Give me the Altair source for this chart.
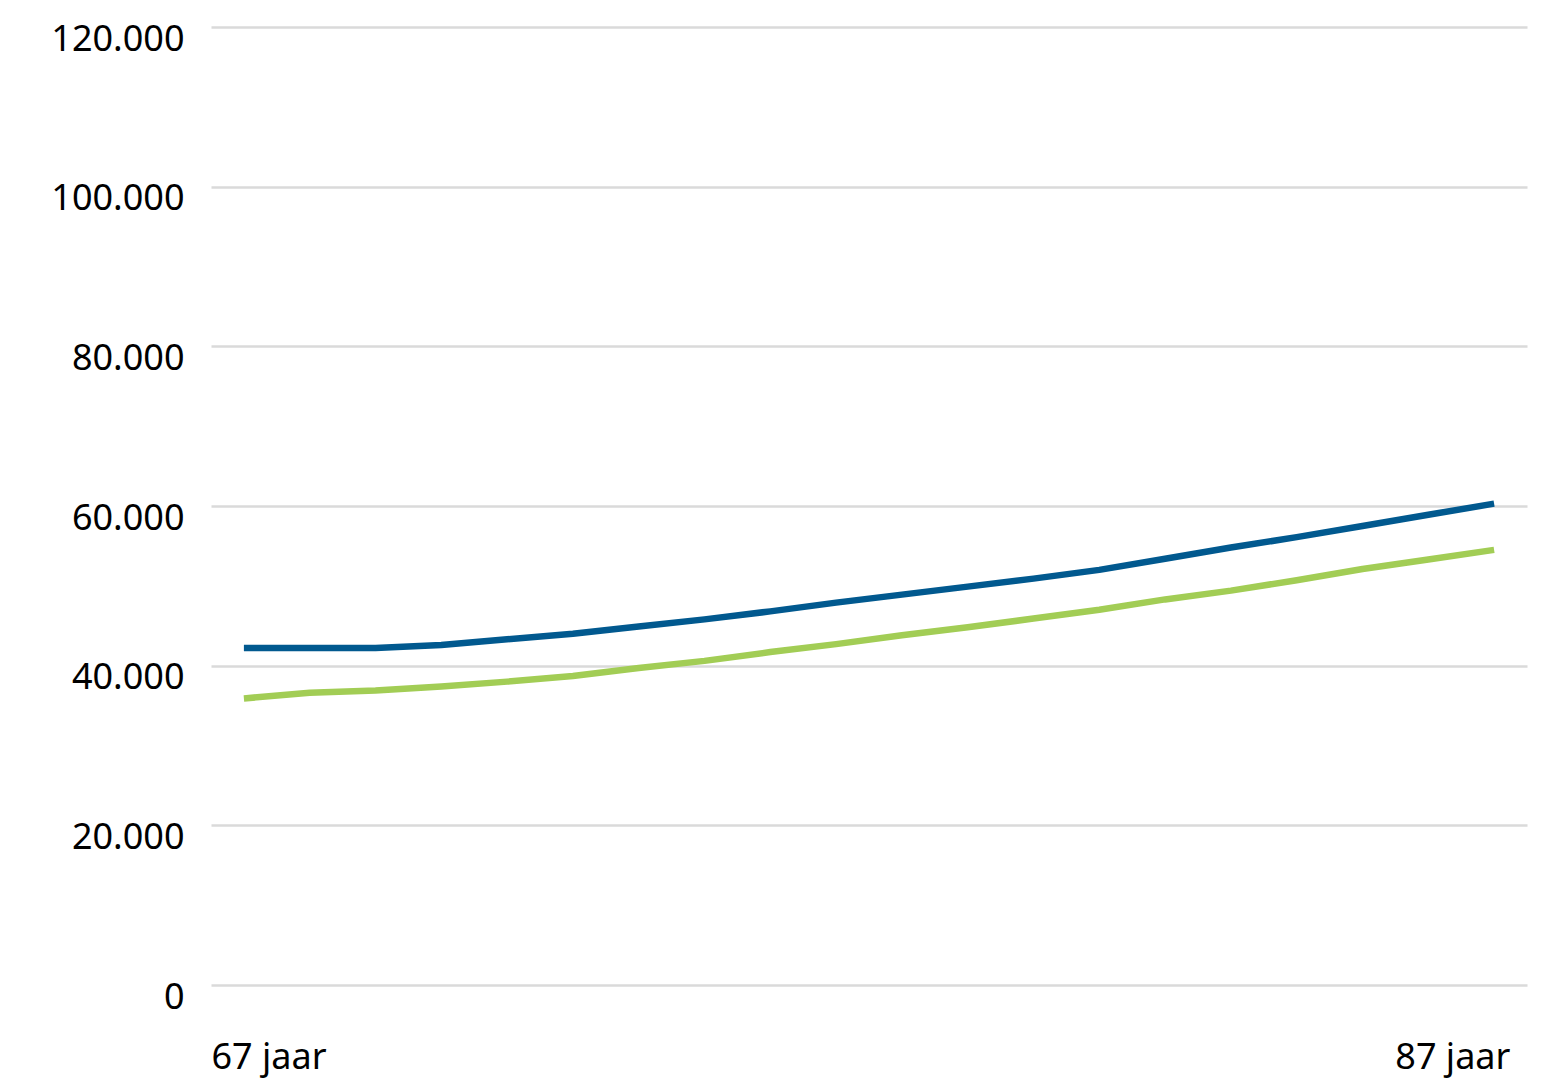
import altair as alt
import pandas as pd

# Data
ages = list(range(67, 87))  # 20 points, axis labelled 67..87 jaar at the ends
blue_values = [42200, 42200, 42200, 42600, 43300, 44000, 44900, 45800, 46800, 47900,
               48900, 49900, 50900, 52000, 53400, 54800, 56100, 57500, 58900, 60300]
green_values = [35900, 36600, 36900, 37400, 38000, 38700, 39700, 40600, 41700, 42700,
                43800, 44800, 45900, 47000, 48300, 49400, 50700, 52100, 53300, 54500]
series_names = ["Reeks 1", "Reeks 2"]
series_colors = ["#01598f", "#a2cd55"]
x_labels = ["67 jaar", "87 jaar"]
y_ticks = [0, 20000, 40000, 60000, 80000, 100000, 120000]

rows = []
for i, a in enumerate(ages):
    rows.append({"idx": i, "leeftijd": a, "reeks": series_names[0], "waarde": blue_values[i]})
    rows.append({"idx": i, "leeftijd": a, "reeks": series_names[1], "waarde": green_values[i]})
df = pd.DataFrame(rows)

n = len(ages)
font = "Noto Sans"

chart = alt.Chart(df).mark_line(strokeWidth=6.5, strokeCap="butt", strokeJoin="round").encode(
    x=alt.X("idx:Q",
            scale=alt.Scale(domain=[-0.5, n - 0.5], nice=False, zero=False),
            axis=alt.Axis(values=[-0.5, n - 0.76], title=None, grid=False, domain=False,
                          ticks=False, labelFlush=30, labelPadding=55,
                          labelExpr=f"datum.value < 0 ? '{x_labels[0]}' : '{x_labels[1]}'",
                          labelFont=font, labelFontSize=36, labelColor="#000000")),
    y=alt.Y("waarde:Q",
            scale=alt.Scale(domain=[0, 120000], nice=False),
            axis=alt.Axis(values=y_ticks, title=None, domain=False, ticks=False,
                          grid=True, gridColor="#dadada", gridWidth=2.5,
                          labelPadding=27, labelOffset=23, labelBaseline="alphabetic",
                          labelExpr="datum.value == 0 ? '0' : format(datum.value / 1000, 'd') + '.000'",
                          labelFont=font, labelFontSize=36, labelColor="#000000")),
    color=alt.Color("reeks:N", scale=alt.Scale(domain=series_names, range=series_colors),
                    legend=None),
    detail="reeks:N",
).properties(
    width=1316,
    height=958,
    background="#ffffff",
    autosize=alt.AutoSizeParams(type="none"),
    padding={"left": 203, "top": 19, "right": 27, "bottom": 96},
).configure_view(stroke=None)

chart.save("out.html", embed_options={"renderer": "svg", "actions": False})
